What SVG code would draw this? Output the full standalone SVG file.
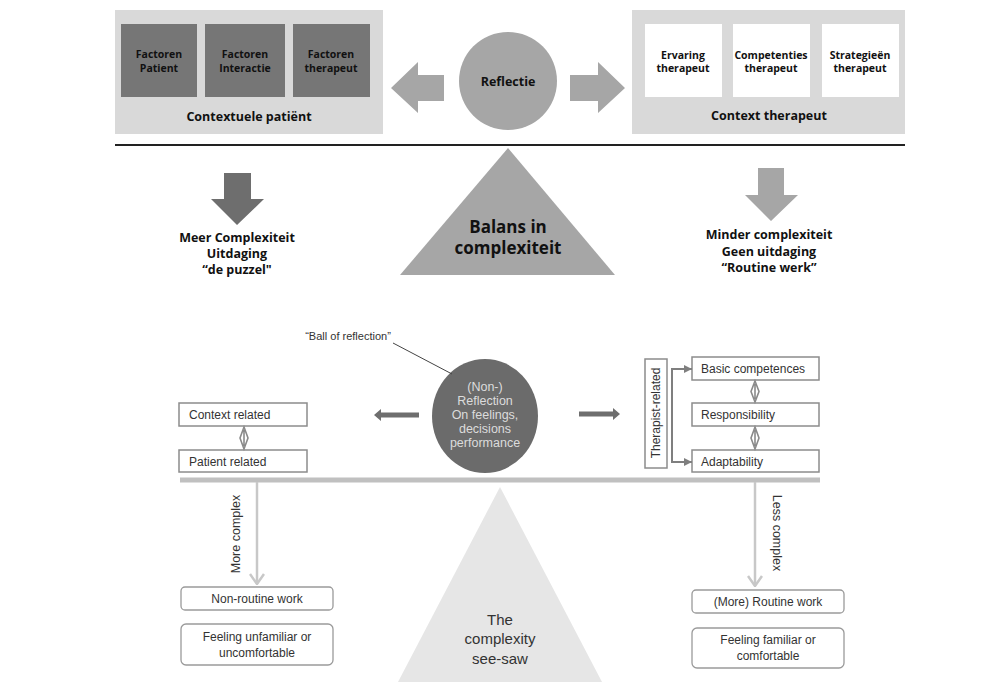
<svg xmlns="http://www.w3.org/2000/svg" width="998" height="682" viewBox="0 0 998 682">
<style>
.tb{font-family:"Open Sans","DejaVu Sans",sans-serif;font-weight:bold;fill:#111;text-anchor:middle}
.sm{font-size:10.5px}
.md{font-size:12.5px}
.lg{font-size:17px}
.bt{font-family:"Liberation Sans","Open Sans",sans-serif;fill:#333;font-size:12px}
.c{text-anchor:middle}
.bw{fill:#dcdcdc;font-size:12.5px}
.box{fill:#fff;stroke:#8c8c8c;stroke-width:1.5}
.rbox{fill:#fff;stroke:#9a9a9a;stroke-width:1.3}
.dbl{fill:none;stroke:#8a8a8a;stroke-width:1.6}
</style>
<defs>
<marker id="tri" viewBox="0 0 10 10" refX="10" refY="5" markerWidth="4" markerHeight="4" orient="auto"><path d="M0,0L10,5L0,10z" fill="#7f7f7f"/></marker>
<marker id="chev" viewBox="0 0 16 12" refX="8" refY="11" markerWidth="16" markerHeight="12" markerUnits="userSpaceOnUse" orient="0"><path d="M1,1L8,11L15,1" fill="none" stroke="#c8c8c8" stroke-width="2.5"/></marker>
</defs>
<rect width="998" height="682" fill="#fff"/>

<g id="panel-left">
<rect x="115" y="10" width="268" height="124" fill="#d9d9d9"/>
<rect x="121" y="24" width="76" height="73" fill="#767676"/>
<rect x="205" y="24" width="80" height="73" fill="#767676"/>
<rect x="293" y="24" width="77" height="73" fill="#767676"/>
<text class="tb sm" x="159" y="58">Factoren</text><text class="tb sm" x="159" y="72">Patient</text>
<text class="tb sm" x="245" y="58">Factoren</text><text class="tb sm" x="245" y="72">Interactie</text>
<text class="tb sm" x="331" y="58">Factoren</text><text class="tb sm" x="331" y="72">therapeut</text>
<text class="tb md" x="249" y="121">Contextuele patiënt</text>
</g>

<g id="panel-right">
<rect x="632" y="10" width="273" height="124" fill="#d9d9d9"/>
<rect x="645" y="24" width="77" height="73" fill="#fff"/>
<rect x="733" y="24" width="77" height="73" fill="#fff"/>
<rect x="822" y="24" width="77" height="73" fill="#fff"/>
<text class="tb sm" x="683" y="59">Ervaring</text><text class="tb sm" x="683" y="72">therapeut</text>
<text class="tb sm" x="771" y="59">Competenties</text><text class="tb sm" x="771" y="72">therapeut</text>
<text class="tb sm" x="860" y="59">Strategieën</text><text class="tb sm" x="860" y="72">therapeut</text>
<text class="tb md" x="769" y="120">Context therapeut</text>
</g>

<g id="reflectie">
<circle cx="508" cy="81" r="49" fill="#a6a6a6"/>
<text class="tb md" x="508" y="86">Reflectie</text>
</g>

<g id="balans">
<polygon points="508,148 400,275 615,275" fill="#a6a6a6"/>
<text class="tb lg" x="508" y="233">Balans in</text>
<text class="tb lg" x="508" y="254">complexiteit</text>
</g>

<g id="meer">
<text class="tb md" x="237" y="242">Meer Complexiteit</text>
<text class="tb md" x="237" y="258">Uitdaging</text>
<text class="tb md" x="237" y="274">“de puzzel"</text>
</g>

<g id="minder">
<text class="tb md" x="769" y="239">Minder complexiteit</text>
<text class="tb md" x="769" y="256">Geen uitdaging</text>
<text class="tb md" x="769" y="272">“Routine werk”</text>
</g>

<g id="seesaw">
<polygon points="500,487 398,682 602,682" fill="#e6e6e6"/>
<text class="bt c" x="500" y="625" style="font-size:15px">The</text>
<text class="bt c" x="500" y="644" style="font-size:15px">complexity</text>
<text class="bt c" x="500" y="664" style="font-size:15px">see-saw</text>
</g>

<g id="ball">
<ellipse cx="485" cy="416" rx="53" ry="57" fill="#6b6b6b"/>
<text class="bt c bw" x="485" y="391">(Non-)</text>
<text class="bt c bw" x="485" y="405">Reflection</text>
<text class="bt c bw" x="485" y="419">On feelings,</text>
<text class="bt c bw" x="485" y="433">decisions</text>
<text class="bt c bw" x="485" y="447">performance</text>
</g>

<g id="ball-label">
<text class="bt c" x="348" y="340" style="font-size:11px">“Ball of reflection”</text>
</g>

<g id="context-related"><rect class="box" x="179" y="403" width="128" height="23"/><text class="bt" x="189" y="419">Context related</text></g>
<g id="patient-related"><rect class="box" x="179" y="450" width="128" height="22"/><text class="bt" x="189" y="466">Patient related</text></g>

<g id="therapist-related"><rect class="box" x="645" y="359" width="22" height="109"/><text class="bt c" transform="translate(660,413) rotate(-90)">Therapist-related</text></g>
<g id="basic"><rect class="box" x="692" y="357" width="127" height="23"/><text class="bt" x="701" y="373">Basic competences</text></g>
<g id="responsibility"><rect class="box" x="692" y="403" width="127" height="23"/><text class="bt" x="701" y="419">Responsibility</text></g>
<g id="adaptability"><rect class="box" x="692" y="450" width="127" height="22"/><text class="bt" x="701" y="466">Adaptability</text></g>

<g id="non-routine"><rect class="rbox" x="181" y="587" width="152" height="23" rx="4"/><text class="bt c" x="257" y="603">Non-routine  work</text></g>
<g id="unfamiliar"><rect class="rbox" x="181" y="624" width="152" height="41" rx="5"/><text class="bt c" x="257" y="641">Feeling unfamiliar or</text><text class="bt c" x="257" y="657">uncomfortable</text></g>
<g id="routine"><rect class="rbox" x="692" y="590" width="152" height="23" rx="4"/><text class="bt c" x="768" y="606">(More) Routine work</text></g>
<g id="familiar"><rect class="rbox" x="692" y="628" width="152" height="40" rx="5"/><text class="bt c" x="768" y="644">Feeling familiar or</text><text class="bt c" x="768" y="660">comfortable</text></g>

<g id="connectors">
<line x1="115" y1="145" x2="905" y2="145" stroke="#222" stroke-width="2.2"/>
<polygon points="391,88 418,62 418,75 444,75 444,101 418,101 418,113" fill="#a6a6a6"/>
<polygon points="625,88 598,62 598,75 570,75 570,101 598,101 598,113" fill="#a6a6a6"/>
<polygon points="224,173 251,173 251,199 264,199 237,225 211,199 224,199" fill="#6e6e6e"/>
<polygon points="758,168 784,168 784,195 798,195 771,221 745,195 758,195" fill="#a6a6a6"/>
<line x1="393" y1="343" x2="452" y2="374" stroke="#444" stroke-width="1"/>
<polygon points="374,415 381,409 381,412.5 419,412.5 419,417.5 381,417.5 381,421" fill="#6e6e6e"/>
<polygon points="620,414 613,408 613,411.5 579,411.5 579,416.5 613,416.5 613,420" fill="#6e6e6e"/>
<line x1="180" y1="480" x2="820" y2="480" stroke="#c0c0c0" stroke-width="5"/>
<path class="dbl" d="M244,427 L248,438 L244,449 L240,438 Z M244,430 L244,446"/>
<path class="dbl" d="M755,381 L759,391.5 L755,402 L751,391.5 Z M755,384 L755,399"/>
<path class="dbl" d="M755,427 L759,438 L755,449 L751,438 Z M755,430 L755,446"/>
<path d="M690,369 L672,369 L672,462 L690,462" fill="none" stroke="#7f7f7f" stroke-width="2"/>
<line x1="680" y1="369" x2="692" y2="369" stroke="#7f7f7f" stroke-width="2" marker-end="url(#tri)"/>
<line x1="680" y1="462" x2="692" y2="462" stroke="#7f7f7f" stroke-width="2" marker-end="url(#tri)"/>
<line x1="257" y1="482" x2="257" y2="584" stroke="#c8c8c8" stroke-width="2.5" marker-end="url(#chev)"/>
<line x1="755" y1="482" x2="755" y2="586" stroke="#c8c8c8" stroke-width="2.5" marker-end="url(#chev)"/>
<text class="bt c" transform="translate(240,534) rotate(-90)" style="font-size:12.5px">More complex</text>
<text class="bt c" transform="translate(773,533) rotate(90)" style="font-size:12.5px">Less complex</text>
</g>
</svg>
